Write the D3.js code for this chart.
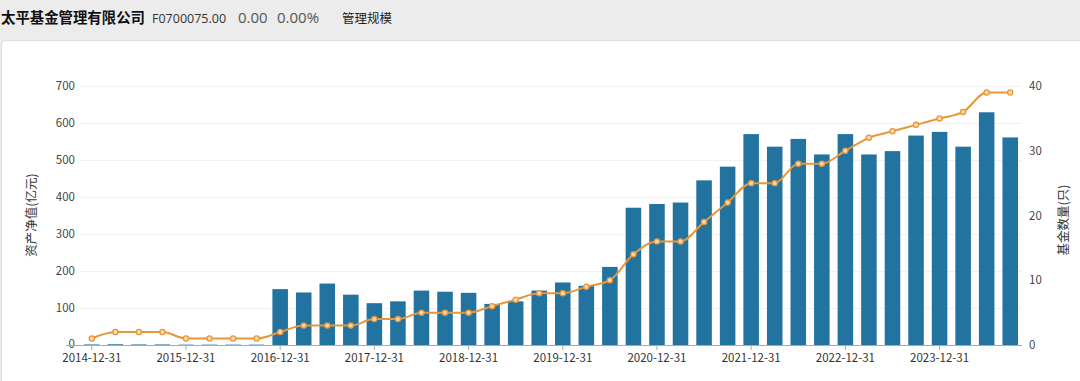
<!DOCTYPE html>
<html><head><meta charset="utf-8">
<script src="https://cdn.jsdelivr.net/npm/d3@7"></script>
<style>
html,body{margin:0;padding:0;background:#ececec;}
svg{display:block;font-family:"Noto Sans CJK SC","Noto Sans",sans-serif;}
</style></head>
<body><svg id="c" width="1080" height="381"></svg>
<script>
const categories = ["2014-12-31","2015-03-31","2015-06-30","2015-09-30","2015-12-31","2016-03-31","2016-06-30","2016-09-30",
"2016-12-31","2017-03-31","2017-06-30","2017-09-30","2017-12-31","2018-03-31","2018-06-30","2018-09-30",
"2018-12-31","2019-03-31","2019-06-30","2019-09-30","2019-12-31","2020-03-31","2020-06-30","2020-09-30",
"2020-12-31","2021-03-31","2021-06-30","2021-09-30","2021-12-31","2022-03-31","2022-06-30","2022-09-30",
"2022-12-31","2023-03-31","2023-06-30","2023-09-30","2023-12-31","2024-03-31","2024-06-30","2024-09-30"];
const netAssets = [1.5,2,1.5,1.5,1,1,1,1,
151,142,166,136,113,118,147,144,
141,111,118,147,169,160,211,371,
381,385,445,482,570,536,557,515,
570,515,524,566,576,536,629,561];
const fundCount = [1,2,2,2,1,1,1,1,
2,3,3,3,4,4,5,5,
5,6,7,8,8,9,10,14,
16,16,19,22,25,25,28,28,
30,32,33,34,35,36,39,39];
const leftTicks = [0,100,200,300,400,500,600,700];
const rightTicks = [0,10,20,30,40];
const xTickLabels = ["2014-12-31","2015-12-31","2016-12-31","2017-12-31","2018-12-31","2019-12-31","2020-12-31","2021-12-31","2022-12-31","2023-12-31"];

const svg = d3.select("#c");
// header
svg.append("rect").attr("x",0).attr("y",0).attr("width",1080).attr("height",381).attr("fill","#ececec");
const hdr = svg.append("g");
hdr.append("text").attr("x",1).attr("y",23).attr("font-size",14.4).attr("font-weight","bold").attr("fill","#111").text("太平基金管理有限公司");
hdr.append("text").attr("x",152).attr("y",23).attr("font-size",12.5).attr("fill","#333").attr("font-family","'Open Sans',sans-serif").text("F0700075.00");
hdr.append("text").attr("x",238).attr("y",23).attr("font-size",15).attr("fill","#555").attr("font-family","'Open Sans',sans-serif").text("0.00");
hdr.append("text").attr("x",277).attr("y",23).attr("font-size",15).attr("fill","#555").attr("font-family","'Open Sans',sans-serif").text("0.00%");
hdr.append("text").attr("x",342).attr("y",23).attr("font-size",12.5).attr("fill","#222").text("管理规模");
// card
svg.append("rect").attr("x",1.5).attr("y",40.5).attr("width",1100).attr("height",400).attr("rx",4)
  .attr("fill","#fff").attr("stroke","#dcdcdc");

const pL = 80, pR = 1022, pT = 86, pB = 345;
const x = d3.scaleBand().domain(categories).range([pL,pR]).paddingInner(0.34).paddingOuter(0.17);
const yL = d3.scaleLinear().domain([0,700]).range([pB,pT]);
const yR = d3.scaleLinear().domain([0,40]).range([pB,pT]);

// grid
svg.append("g").selectAll("line").data(leftTicks.slice(1)).join("line")
  .attr("x1",pL).attr("x2",pR).attr("y1",d=>yL(d)+0.5).attr("y2",d=>yL(d)+0.5)
  .attr("stroke","#f1f1f1");

// bars
svg.append("g").selectAll("rect").data(categories).join("rect")
  .attr("x",d=>x(d)).attr("width",x.bandwidth())
  .attr("y",(d,i)=>yL(netAssets[i])).attr("height",(d,i)=>pB-yL(netAssets[i]))
  .attr("fill","#22739f");

// left axis
const la = svg.append("g").attr("transform",`translate(${pL},0)`)
  .call(d3.axisLeft(yL).tickValues(leftTicks).tickSize(0).tickPadding(5));
la.select(".domain").remove();
la.selectAll("text").attr("font-size",11.5).attr("fill","#444").attr("font-family","'Noto Sans CJK SC',sans-serif");
la.selectAll(".tick").filter(d=>d===0).select("text").attr("dy","0.2em");

// right axis
const ra = svg.append("g").attr("transform",`translate(${pR},0)`)
  .call(d3.axisRight(yR).tickValues(rightTicks).tickSize(0).tickPadding(7));
ra.select(".domain").remove();
ra.selectAll("text").attr("font-size",11.5).attr("fill","#444").attr("font-family","'Noto Sans CJK SC',sans-serif");

// bottom axis
const xa = svg.append("g").attr("transform",`translate(0,${pB})`)
  .call(d3.axisBottom(x).tickValues(xTickLabels).tickSize(5).tickPadding(4));
xa.select(".domain").attr("stroke","#aaa").attr("d",`M${pL-14},0.5H${pR}`);
xa.selectAll(".tick line").attr("stroke","#aaa");
xa.selectAll("text").attr("font-size",11.5).attr("fill","#333").attr("font-family","'Noto Sans CJK SC',sans-serif");

// axis titles
svg.append("text").attr("transform","translate(36,215) rotate(-90)").attr("text-anchor","middle")
  .attr("font-size",12.5).attr("fill","#333").text("资产净值(亿元)");
svg.append("text").attr("transform","translate(1068,220) rotate(-90)").attr("text-anchor","middle")
  .attr("font-size",12.5).attr("fill","#333").text("基金数量(只)");

// line
const cx = d=>x(d)+x.bandwidth()/2;
const line = d3.line().x(d=>cx(d)).y((d,i)=>yR(fundCount[i])).curve(d3.curveMonotoneX);
svg.append("path").datum(categories).attr("d",line).attr("fill","none").attr("stroke","#e8963a").attr("stroke-width",2);
svg.append("g").selectAll("circle").data(categories).join("circle")
  .attr("cx",cx).attr("cy",(d,i)=>yR(fundCount[i])).attr("r",2.6)
  .attr("fill","#f7d9ad").attr("stroke","#e8963a").attr("stroke-width",1.3);
</script></body></html>
